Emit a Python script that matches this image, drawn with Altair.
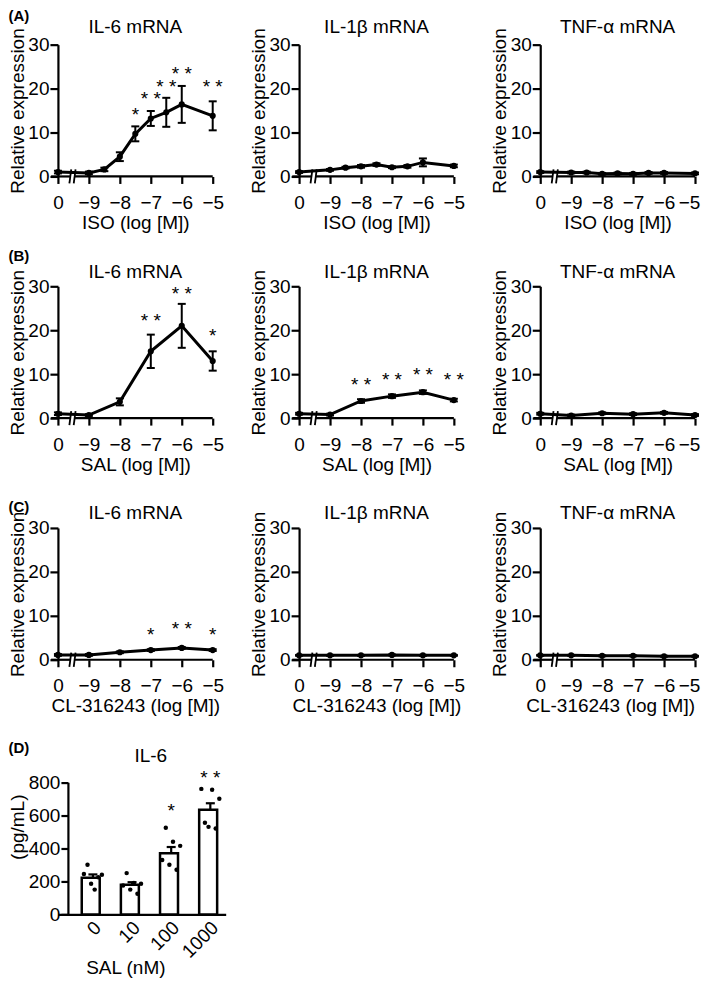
import altair as alt
import pandas as pd

FONT = "Liberation Sans"

# ---------------- data ----------------
ISO_DOSES = [0, -9, -8.5, -8, -7.5, -7, -6.5, -6, -5]
SAL_DOSES = [0, -9, -8, -7, -6, -5]
CL_DOSES = [0, -9, -8, -7, -6, -5]

# (A) ISO
A_IL6 = [1.0, 0.8, 1.6, 4.5, 9.7, 13.2, 14.6, 16.4, 13.8]
A_IL6_SEM = [0.3, 0.3, 0.4, 1.0, 1.7, 1.7, 3.3, 4.2, 3.3]
A_IL6_STAR_DOSE = [-7.5, -7, -6.5, -6, -5]
A_IL6_STAR_TXT = ["*", "**", "**", "**", "**"]
A_IL6_STAR_Y = [15.4, 19.0, 21.7, 24.7, 21.7]

A_IL1B = [1.0, 1.5, 2.0, 2.3, 2.7, 2.1, 2.3, 3.2, 2.4]
A_IL1B_SEM = [0.2, 0.2, 0.2, 0.3, 0.3, 0.2, 0.3, 0.9, 0.3]

A_TNF = [1.0, 0.9, 0.9, 0.6, 0.7, 0.6, 0.8, 0.8, 0.7]
A_TNF_SEM = [0.2, 0.2, 0.2, 0.2, 0.2, 0.2, 0.2, 0.2, 0.2]

# (B) SAL
B_IL6 = [1.0, 0.7, 3.7, 15.2, 21.0, 13.0]
B_IL6_SEM = [0.3, 0.2, 0.8, 3.8, 5.0, 2.2]
B_IL6_STAR_DOSE = [-7, -6, -5]
B_IL6_STAR_TXT = ["**", "**", "*"]
B_IL6_STAR_Y = [23.5, 29.7, 20.0]

B_IL1B = [1.0, 0.8, 3.9, 5.0, 5.9, 4.1]
B_IL1B_SEM = [0.2, 0.2, 0.4, 0.4, 0.4, 0.3]
B_IL1B_STAR_DOSE = [-8, -7, -6, -5]
B_IL1B_STAR_TXT = ["**", "**", "**", "**"]
B_IL1B_STAR_Y = [8.8, 10.0, 11.1, 10.0]

B_TNF = [1.0, 0.6, 1.1, 0.9, 1.2, 0.7]
B_TNF_SEM = [0.2, 0.2, 0.2, 0.2, 0.2, 0.2]

# (C) CL-316243
C_IL6 = [1.1, 1.1, 1.7, 2.2, 2.7, 2.2]
C_IL6_SEM = [0.2, 0.2, 0.2, 0.2, 0.2, 0.2]
C_IL6_STAR_DOSE = [-7, -6, -5]
C_IL6_STAR_TXT = ["*", "**", "*"]
C_IL6_STAR_Y = [7.1, 8.4, 7.1]

C_IL1B = [1.0, 1.0, 1.0, 1.1, 1.0, 1.0]
C_IL1B_SEM = [0.1, 0.1, 0.1, 0.1, 0.1, 0.1]

C_TNF = [1.0, 1.0, 0.9, 0.9, 0.8, 0.8]
C_TNF_SEM = [0.1, 0.1, 0.1, 0.1, 0.1, 0.1]

# (D) IL-6 protein, SAL (nM)
D_DOSES = ["0", "10", "100", "1000"]
D_MEAN = [222, 179, 370, 633]
D_SEM = [20, 16, 38, 40]
D_DOTS = {
    "0": [245, 300, 185, 150, 225, 240],
    "10": [175, 250, 150, 190, 125, 185],
    "100": [330, 525, 300, 440, 270, 415],
    "1000": [760, 555, 530, 755, 520, 700],
}
D_STAR_DOSE = ["100", "1000"]
D_STAR_TXT = ["*", "**"]
D_STAR_Y = [660, 860]

# ---------------- helpers ----------------
W, H = 155, 132


def pos(d):
    return -10.0 if d == 0 else float(d)


def spaced(s):
    return " ".join(list(s))


def label_layer(text, x, y, size, bold=False, align="center",
                baseline="alphabetic", angle=0):
    return alt.Chart(pd.DataFrame({"t": [text]})).mark_text(
        font=FONT, fontSize=size, fontWeight="bold" if bold else "normal",
        align=align, baseline=baseline, angle=angle, color="black").encode(
        x=alt.value(x), y=alt.value(y), text="t:N")


def x_axis(last_col=False, title_x=None):
    kw = {}
    if last_col:
        kw["labelOffset"] = alt.condition("datum.value == -5",
                                          alt.value(-6), alt.value(0))
    if title_x is not None:
        kw["titleX"] = title_x
    return alt.Axis(
        values=[-10, -9, -8, -7, -6, -5],
        labelExpr="datum.value == -10 ? '0' : '\u2212' + abs(datum.value)",
        domain=False, tickSize=7, labelPadding=10, titlePadding=1,
        labelFlush=False, labelOverlap=False, **kw
    )


def y_axis():
    return alt.Axis(values=[0, 10, 20, 30], tickSize=8, labelPadding=1,
                    titlePadding=0.5, labelFlush=False)


def line_panel(doses, means, sems, title, xtitle, title_base,
               star_dose=None, star_txt=None, star_y=None,
               letter=None, letter_y=-35.3, last_col=False, title_x=None):
    xs = [pos(d) for d in doses]
    lo = [m - s for m, s in zip(means, sems)]
    hi = [m + s for m, s in zip(means, sems)]
    main = pd.DataFrame({"x": xs, "y": means})
    err = pd.DataFrame({"x": xs, "y": lo, "y2": hi})
    caps = pd.DataFrame({"x": xs + xs, "y": lo + hi})

    XS = alt.Scale(domain=[-10, -5], nice=False, zero=False)
    YS = alt.Scale(domain=[0, 30], nice=False)
    X = alt.X("x:Q", scale=XS, axis=x_axis(last_col, title_x), title=xtitle)
    Y = alt.Y("y:Q", scale=YS, axis=y_axis(), title="Relative expression")

    axis_df = pd.DataFrame({"x": [-10.22, -9.46], "x2": [-9.60, -5.0], "y": [0, 0]})
    brk_df = pd.DataFrame({"x": [-9.57, -9.43], "x2": [-9.63, -9.49],
                           "y": [1.6, 1.6], "y2": [-1.6, -1.6]})

    layers = [
        alt.Chart(axis_df).mark_rule(color="black", strokeWidth=2.2).encode(
            x=X, x2="x2:Q", y=Y),
        alt.Chart(brk_df).mark_rule(color="black", strokeWidth=1.8).encode(
            x=X, x2="x2:Q", y=Y, y2="y2:Q"),
        alt.Chart(err).mark_rule(color="black", strokeWidth=2).encode(
            x=X, y=Y, y2="y2:Q"),
        alt.Chart(caps).mark_tick(color="black", orient="horizontal", size=8,
                                  thickness=2, opacity=1).encode(x=X, y=Y),
        alt.Chart(main).mark_line(color="black", strokeWidth=3).encode(x=X, y=Y),
        alt.Chart(main).mark_circle(color="black", size=38, opacity=1).encode(
            x=X, y=Y),
        label_layer(title, W / 2, -title_base, 19),
    ]
    if star_dose:
        sdf = pd.DataFrame({"x": [pos(d) for d in star_dose], "y": star_y,
                            "t": [spaced(s) for s in star_txt]})
        layers.append(
            alt.Chart(sdf).mark_text(font=FONT, fontSize=19, color="black",
                                     baseline="middle", dy=6).encode(
                x=X, y=Y, text="t:N"))
    if letter:
        layers.append(label_layer(letter, -49.5, letter_y, 15, bold=True,
                                  align="left", baseline="top"))
    return alt.layer(*layers).properties(width=W, height=H)


def bar_panel():
    hi = [m + s for m, s in zip(D_MEAN, D_SEM)]
    mean_df = pd.DataFrame({"g": D_DOSES, "y": D_MEAN, "y2": hi})
    cap_df = pd.DataFrame({"g": D_DOSES, "y": hi})
    rows = []
    for g in D_DOSES:
        for k, v in enumerate(D_DOTS[g]):
            rows.append({"g": g, "y": v, "k": k})
    dots = pd.DataFrame(rows)
    sdf = pd.DataFrame({"g": D_STAR_DOSE, "y": D_STAR_Y,
                        "t": [spaced(s) for s in D_STAR_TXT]})

    X = alt.X("g:N", sort=D_DOSES, title=None,
              scale=alt.Scale(range=[0, 168], paddingInner=0.43,
                              paddingOuter=0.358, align=0.85),
              axis=alt.Axis(labelAngle=-45, labelAlign="right",
                            labelBaseline="middle", ticks=False,
                            labelPadding=10, labelOffset=5))
    Y = alt.Y("y:Q", title=None,
              scale=alt.Scale(domain=[0, 800], range=[145, 12.7], nice=False),
              axis=alt.Axis(values=[0, 200, 400, 600, 800], offset=-10,
                            tickSize=7, labelPadding=1, labelFlush=False))
    layers = [
        alt.Chart(mean_df).mark_bar(fill="white", stroke="black",
                                    strokeWidth=2.5).encode(x=X, y=Y),
        alt.Chart(mean_df).mark_rule(color="black", strokeWidth=2.2).encode(
            x=X, y=Y, y2="y2:Q"),
        alt.Chart(cap_df).mark_tick(color="black", orient="horizontal", size=9,
                                    thickness=2.2, opacity=1).encode(x=X, y=Y),
        alt.Chart(dots).mark_circle(color="black", size=20, opacity=1).encode(
            x=X, y=Y,
            xOffset=alt.XOffset("k:O", scale=alt.Scale(paddingOuter=0.6))),
        alt.Chart(sdf).mark_text(font=FONT, fontSize=19, color="black",
                                 baseline="middle", dy=6).encode(
            x=X, y=Y, text="t:N"),
        label_layer("IL-6", 93, -7.3, 19),
        label_layer("(pg/mL)", -40, 57.7, 19, baseline="middle", angle=270),
        label_layer("SAL (nM)", 68, 199, 19, baseline="middle"),
        label_layer("(D)", -49.5, -28.9, 15, bold=True, align="left", baseline="top"),
    ]
    return alt.layer(*layers).properties(width=W, height=145)


panels = [
    line_panel(ISO_DOSES, A_IL6, A_IL6_SEM, "IL-6 mRNA", "ISO (log [M])", 11.6,
               A_IL6_STAR_DOSE, A_IL6_STAR_TXT, A_IL6_STAR_Y, "(A)", -35.3),
    line_panel(ISO_DOSES, A_IL1B, A_IL1B_SEM, "IL-1\u03b2 mRNA", "ISO (log [M])", 11.6),
    line_panel(ISO_DOSES, A_TNF, A_TNF_SEM, "TNF-\u03b1 mRNA", "ISO (log [M])", 11.6,
               last_col=True),
    line_panel(SAL_DOSES, B_IL6, B_IL6_SEM, "IL-6 mRNA", "SAL (log [M])", 8.7,
               B_IL6_STAR_DOSE, B_IL6_STAR_TXT, B_IL6_STAR_Y, "(B)", -37),
    line_panel(SAL_DOSES, B_IL1B, B_IL1B_SEM, "IL-1\u03b2 mRNA", "SAL (log [M])", 8.7,
               B_IL1B_STAR_DOSE, B_IL1B_STAR_TXT, B_IL1B_STAR_Y),
    line_panel(SAL_DOSES, B_TNF, B_TNF_SEM, "TNF-\u03b1 mRNA", "SAL (log [M])", 8.7,
               last_col=True),
    line_panel(CL_DOSES, C_IL6, C_IL6_SEM, "IL-6 mRNA", "CL-316243 (log [M])", 9.3,
               C_IL6_STAR_DOSE, C_IL6_STAR_TXT, C_IL6_STAR_Y, "(C)", -28.3),
    line_panel(CL_DOSES, C_IL1B, C_IL1B_SEM, "IL-1\u03b2 mRNA", "CL-316243 (log [M])", 9.3),
    line_panel(CL_DOSES, C_TNF, C_TNF_SEM, "TNF-\u03b1 mRNA", "CL-316243 (log [M])", 9.3,
               last_col=True, title_x=70),
    bar_panel(),
]

chart = alt.concat(
    *panels, columns=3, spacing={"row": 110, "column": 86.5}, bounds="flush",
    padding=0,
).configure_view(stroke=None).configure_axis(
    grid=False, labelFont=FONT, labelFontSize=19, labelColor="black",
    titleFont=FONT, titleFontSize=19, titleFontWeight="normal", titleColor="black",
    domainColor="black", domainWidth=2.2, tickColor="black", tickWidth=2.2,
)

chart.save("out.html", embed_options={"renderer": "svg", "actions": False})
